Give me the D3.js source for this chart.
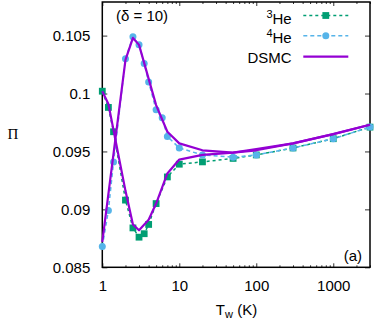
<!DOCTYPE html>
<html>
<head>
<meta charset="utf-8">
<script src="https://cdn.jsdelivr.net/npm/d3@7"></script>
<style>
  body { margin: 0; background: #fff; }
  svg text { font-family: "Liberation Sans", Arial, sans-serif; fill: #000; }
</style>
</head>
<body>
<div id="chart"></div>
<script>
// data
const T3He = [1, 1.2, 1.4, 2, 2.5, 3, 3.5, 4, 5, 7, 10, 20, 50, 100, 300, 1000, 3000];
const pi3He = [0.1002, 0.0988, 0.0967, 0.0908, 0.0884, 0.0876, 0.0879, 0.0887, 0.0905, 0.0928, 0.0939, 0.0941, 0.0944, 0.0947, 0.0953, 0.0961, 0.0971];

const T4He = [1, 1.2, 1.4, 2, 2.5, 3, 3.5, 4, 5, 6, 7, 10, 20, 50, 100, 300, 1000, 3000];
const pi4He = [0.0868, 0.0899, 0.0941, 0.1030, 0.1049, 0.1042, 0.1026, 0.1010, 0.0986, 0.0979, 0.0963, 0.0953, 0.0947, 0.0945, 0.0947, 0.0953, 0.0961, 0.0971];

const Tdsmc3 = [1, 1.2, 2, 2.5, 3, 4, 5, 7, 10, 20, 50, 100, 300, 1000, 3000];
const piDsmc3 = [0.1002, 0.0991, 0.0916, 0.0887, 0.0882, 0.0891, 0.0905, 0.0931, 0.0943, 0.0947, 0.0949, 0.0951, 0.0957, 0.0965, 0.0973];

const Tdsmc4 = [1, 2, 2.5, 3, 5, 7, 10, 20, 50, 100, 300, 1000, 3000];
const piDsmc4 = [0.0872, 0.1029, 0.1048, 0.1042, 0.0990, 0.0967, 0.0957, 0.0951, 0.0949, 0.0952, 0.0957, 0.0965, 0.0973];

const xTicks = [1, 10, 100, 1000];
const yTicks = [0.085, 0.09, 0.095, 0.1, 0.105];
const yTickLabels = ["0.085", "0.09", "0.095", "0.1", "0.105"];

const width = 375, height = 324;
const plot = { left: 102.3, right: 370, top: 2, bottom: 267.3 };

const green = "#009e73", blue = "#56b4e9", purple = "#9400d3";

let svg = d3.select("#chart")
  .append("svg")
  .attr("width", width)
  .attr("height", height);

// scales
let xScale = d3.scaleLog()
  .domain([1, 3000])
  .range([plot.left, plot.right]);

let yScale = d3.scaleLinear()
  .domain([0.085, 0.1079])
  .range([plot.bottom, plot.top]);

// minor ticks for the log axis
let minor = [];
[1, 10, 100, 1000].forEach(function(dec) {
  for (let k = 2; k <= 9; k++) {
    if (dec * k <= 3000) minor.push(dec * k);
  }
});

// bottom axis
let gx = svg.append("g")
  .attr("transform", `translate(0,${plot.bottom})`)
  .call(d3.axisBottom(xScale).tickValues(xTicks).tickFormat(d3.format("d"))
    .tickSizeInner(-4).tickSizeOuter(0).tickPadding(13));
gx.selectAll("text").attr("font-size", "15px");

svg.append("g")
  .attr("transform", `translate(0,${plot.bottom})`)
  .call(d3.axisBottom(xScale).tickValues(minor).tickFormat("").tickSizeInner(-2).tickSizeOuter(0));

// top mirror
svg.append("g")
  .attr("transform", `translate(0,${plot.top})`)
  .call(d3.axisTop(xScale).tickValues(xTicks).tickFormat("").tickSizeInner(-4).tickSizeOuter(0));
svg.append("g")
  .attr("transform", `translate(0,${plot.top})`)
  .call(d3.axisTop(xScale).tickValues(minor).tickFormat("").tickSizeInner(-2).tickSizeOuter(0));

// left axis
let gy = svg.append("g")
  .attr("transform", `translate(${plot.left},0)`)
  .call(d3.axisLeft(yScale).tickValues(yTicks)
    .tickFormat((d, i) => yTickLabels[i])
    .tickSizeInner(-5).tickSizeOuter(0).tickPadding(12));
gy.selectAll("text").attr("font-size", "15px");

// right mirror
svg.append("g")
  .attr("transform", `translate(${plot.right},0)`)
  .call(d3.axisRight(yScale).tickValues(yTicks).tickFormat("").tickSizeInner(-5).tickSizeOuter(0));

svg.selectAll(".domain").remove();
svg.selectAll(".tick line").attr("stroke", "#333");

// frame
svg.append("rect")
  .attr("x", plot.left)
  .attr("y", plot.top)
  .attr("width", plot.right - plot.left)
  .attr("height", plot.bottom - plot.top)
  .attr("fill", "none")
  .attr("stroke", "#000")
  .attr("stroke-width", 1.5);

// series
let line = d3.line()
  .x(d => xScale(d[0]))
  .y(d => yScale(d[1]));

let he3 = T3He.map((t, i) => [t, pi3He[i]]);
let he4 = T4He.map((t, i) => [t, pi4He[i]]);
let ds3 = Tdsmc3.map((t, i) => [t, piDsmc3[i]]);
let ds4 = Tdsmc4.map((t, i) => [t, piDsmc4[i]]);

svg.append("path")
  .datum(he3)
  .attr("d", line)
  .attr("fill", "none")
  .attr("stroke", green)
  .attr("stroke-width", 1.5)
  .attr("stroke-dasharray", "3,3");

svg.selectAll(".sq")
  .data(he3)
  .enter()
  .append("rect")
    .attr("class", "sq")
    .attr("x", d => xScale(d[0]) - 3.4)
    .attr("y", d => yScale(d[1]) - 3.4)
    .attr("width", 6.8)
    .attr("height", 6.8)
    .attr("fill", green);

svg.append("path")
  .datum(he4)
  .attr("d", line)
  .attr("fill", "none")
  .attr("stroke", blue)
  .attr("stroke-width", 1.5)
  .attr("stroke-dasharray", "4,3");

svg.selectAll(".pt")
  .data(he4)
  .enter()
  .append("circle")
    .attr("class", "pt")
    .attr("cx", d => xScale(d[0]))
    .attr("cy", d => yScale(d[1]))
    .attr("r", 3.5)
    .attr("fill", blue);

[ds3, ds4].forEach(function(s) {
  svg.append("path")
    .datum(s)
    .attr("d", line)
    .attr("fill", "none")
    .attr("stroke", purple)
    .attr("stroke-width", 2.2)
    .attr("stroke-linejoin", "round");
});

// legend
const legX0 = 303.3, legX1 = 348.3, legText = 291.7;

let l1 = svg.append("text").attr("x", legText).attr("y", 24).attr("text-anchor", "end").attr("font-size", "15px");
l1.append("tspan").attr("font-size", "11px").attr("dy", "-6").text("3");
l1.append("tspan").attr("dy", "6").text("He");
svg.append("line").attr("x1", legX0).attr("x2", legX1).attr("y1", 15.5).attr("y2", 15.5)
  .attr("stroke", green).attr("stroke-width", 1.5).attr("stroke-dasharray", "3,3");
svg.append("rect").attr("x", (legX0 + legX1) / 2 - 3.4).attr("y", 15.5 - 3.4)
  .attr("width", 6.8).attr("height", 6.8).attr("fill", green);

let l2 = svg.append("text").attr("x", legText).attr("y", 43).attr("text-anchor", "end").attr("font-size", "15px");
l2.append("tspan").attr("font-size", "11px").attr("dy", "-6").text("4");
l2.append("tspan").attr("dy", "6").text("He");
svg.append("line").attr("x1", legX0).attr("x2", legX1).attr("y1", 35.7).attr("y2", 35.7)
  .attr("stroke", blue).attr("stroke-width", 1.5).attr("stroke-dasharray", "4,3");
svg.append("circle").attr("cx", (legX0 + legX1) / 2).attr("cy", 35.7).attr("r", 3.5).attr("fill", blue);

svg.append("text").attr("x", legText).attr("y", 63).attr("text-anchor", "end")
  .attr("font-size", "15px").text("DSMC");
svg.append("line").attr("x1", legX0).attr("x2", legX1).attr("y1", 56.7).attr("y2", 56.7)
  .attr("stroke", purple).attr("stroke-width", 2.2);

// labels
svg.append("text").attr("x", 116).attr("y", 21).attr("font-size", "15px").text("(δ = 10)");
svg.append("text").attr("x", 362).attr("y", 261).attr("text-anchor", "end").attr("font-size", "15px").text("(a)");

let xl = svg.append("text").attr("x", 236.5).attr("y", 315).attr("text-anchor", "middle").attr("font-size", "15px");
xl.append("tspan").text("T");
xl.append("tspan").attr("font-size", "11px").attr("dy", "3").text("w");
xl.append("tspan").attr("dy", "-3").text(" (K)");

svg.append("text")
  .attr("x", 13)
  .attr("y", 139)
  .attr("text-anchor", "middle")
  .attr("font-size", "15px")
  .style("font-family", "'Liberation Serif', 'DejaVu Serif', serif")
  .text("Π");
</script>
</body>
</html>
